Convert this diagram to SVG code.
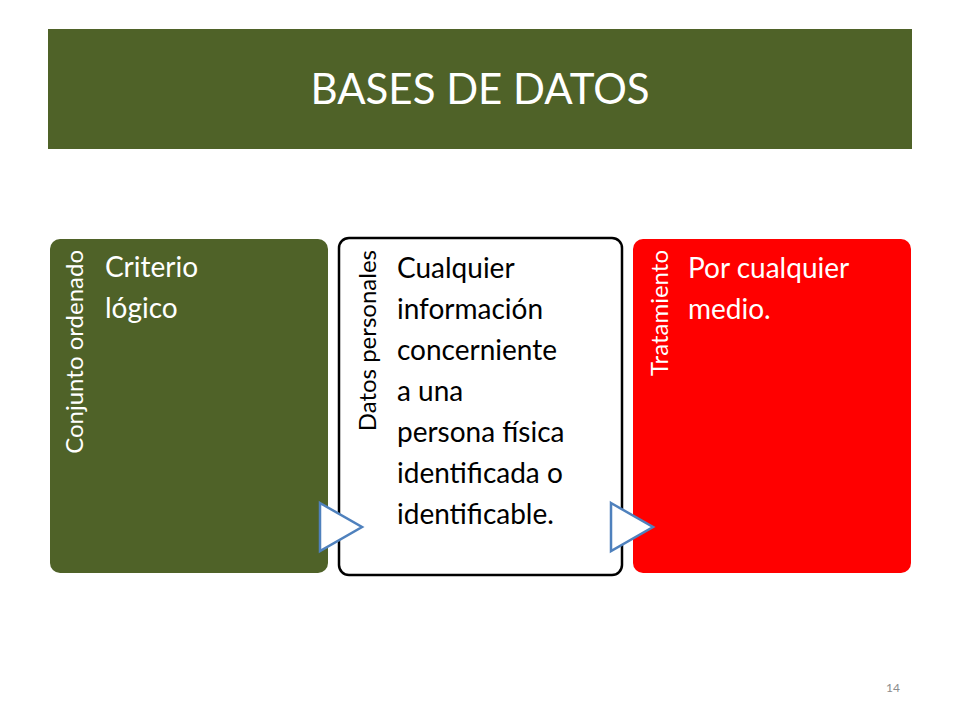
<svg xmlns="http://www.w3.org/2000/svg" width="960" height="720" viewBox="0 0 960 720">
<style>
.t{font-family:Lato,"Liberation Sans",sans-serif;fill:#fff}
.b{font-size:28px}
.v{font-size:24px}
.k{fill:#000}
.arr{fill:#fff;stroke:#4F81BD;stroke-width:2.5;stroke-linejoin:miter}
</style>
<rect width="960" height="720" fill="#fff"/>
<g id="title"><rect x="48" y="29" width="864" height="120" fill="#4F6228"/>
<text class="t" x="480" y="104" font-size="42" text-anchor="middle">BASES DE DATOS</text></g>
<g id="n1"><rect x="50" y="239" width="278" height="334" rx="10" fill="#4F6228"/>
<text class="t v" transform="translate(83,250) rotate(-90)" text-anchor="end">Conjunto ordenado</text>
<text class="t b" x="105" y="277">Criterio</text><text class="t b" x="105" y="318">lógico</text></g>
<g id="n2"><rect x="339" y="238" width="283" height="337" rx="10" fill="#fff" stroke="#000" stroke-width="2.5"/>
<text class="t v k" transform="translate(376,250) rotate(-90)" text-anchor="end">Datos personales</text>
<g class="t b k"><text x="397" y="278">Cualquier</text><text x="397" y="319">información</text><text x="397" y="360">concerniente</text><text x="397" y="401">a una</text><text x="397" y="442">persona física</text><text x="397" y="483">identificada o</text><text x="397" y="524">identificable.</text></g></g>
<g id="n3"><rect x="633" y="239" width="278" height="334" rx="10" fill="#FF0000"/>
<text class="t v" transform="translate(668,250) rotate(-90)" text-anchor="end">Tratamiento</text>
<text class="t b" x="688" y="278">Por cualquier</text><text class="t b" x="688" y="319">medio.</text></g>
<g id="connectors">
<polygon class="arr" points="320,503 362,527 320,551"/>
<polygon class="arr" points="611,503 653,527 611,551"/>
</g>
<text x="893" y="692" font-family="Lato,'Liberation Sans',sans-serif" font-size="12" fill="#8c8c8c" text-anchor="middle">14</text>
</svg>
